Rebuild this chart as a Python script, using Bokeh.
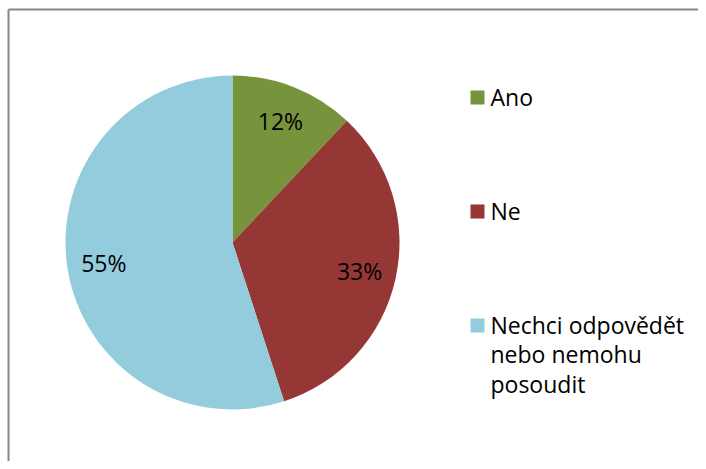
import math
from bokeh.plotting import figure
from bokeh.models import Range1d, ColumnDataSource
from bokeh.core.properties import value
from bokeh.embed import file_html
from bokeh.resources import INLINE

categories = ["Ano", "Ne", "Nechci odpovědět\nnebo nemohu\nposoudit"]
percents = [12, 33, 55]
colors = ["#77933C", "#953735", "#93CDDD"]

W, H = 698, 461
FONT = "Open Sans"

p = figure(width=W, height=H, output_backend="svg", toolbar_location=None,
           x_range=Range1d(0, W), y_range=Range1d(0, H), min_border=0)
p.axis.visible = False
p.grid.visible = False
p.outline_line_color = None
p.background_fill_color = "white"

# frame lines (top and left visible in the reference)
p.line([8, 8], [-10, 452], line_color="#868686", line_width=2)
p.line([8, W + 10], [452, 452], line_color="#868686", line_width=2)

cx, cy, r = 232, 219, 167
total = sum(percents)
starts, ends, mids = [], [], []
a = math.pi / 2
for v in percents:
    sweep = 2 * math.pi * v / total
    starts.append(a)
    ends.append(a - sweep)
    mids.append(a - sweep / 2)
    a -= sweep

src = ColumnDataSource(dict(start=starts, end=ends, color=colors))
p.wedge(x=cx, y=cy, radius=r, start_angle="start", end_angle="end",
        direction="clock", fill_color="color", line_color=None, source=src)

lr = 0.78 * r
lab = ColumnDataSource(dict(
    x=[cx + lr * math.cos(m) for m in mids],
    y=[cy + lr * math.sin(m) for m in mids],
    t=[f"{v}%" for v in percents]))
p.text(x="x", y="y", text="t", source=lab, text_font=value(FONT),
       text_font_size="23px", text_color="#000000",
       text_align="center", text_baseline="middle")

# legend
leg_y = [364, 250, 136]
p.scatter(x=[477] * 3, y=leg_y, marker="square", size=14,
          fill_color=colors, line_color=None)
p.text(x=[490] * 3, y=[y + 17 for y in leg_y], text=categories,
       text_font=value(FONT), text_font_size="23px", text_color="#000000",
       text_align="left", text_baseline="top", text_line_height=0.93)

open("out.html", "w").write(file_html(p, INLINE))
